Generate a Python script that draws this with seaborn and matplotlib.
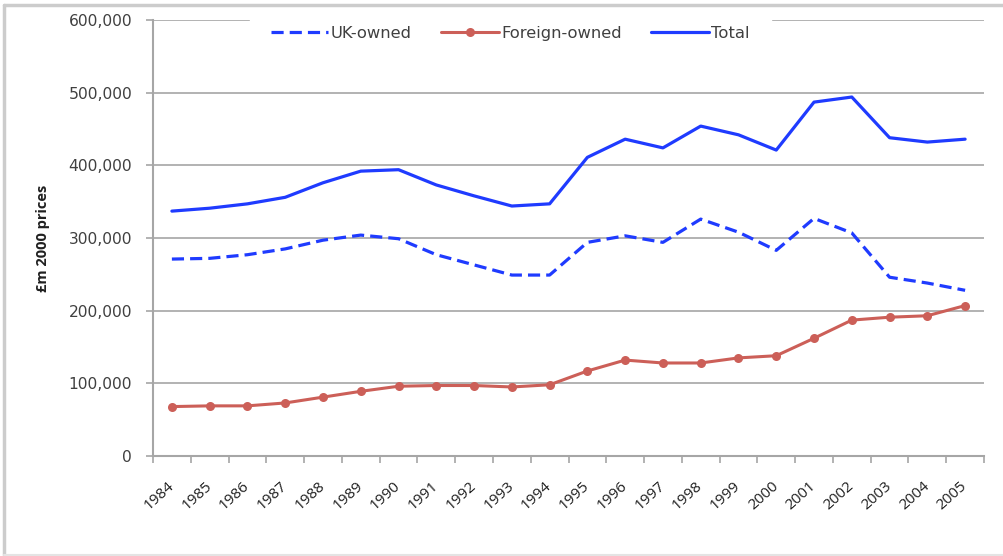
import matplotlib
matplotlib.use("Agg")
import matplotlib.pyplot as plt
import matplotlib.ticker as mticker
import matplotlib.transforms as mtransforms
from matplotlib.lines import Line2D
import seaborn as sns
import pandas as pd

years = [str(y) for y in range(1984, 2006)]
uk_owned = [271000, 272000, 277000, 285000, 297000, 304000, 299000, 277000, 263000, 249000, 249000,
            294000, 303000, 294000, 326000, 308000, 283000, 327000, 307000, 246000, 238000, 228000]
foreign_owned = [68000, 69000, 69000, 73000, 81000, 89000, 96000, 97000, 97000, 95000, 98000,
                 117000, 132000, 128000, 128000, 135000, 138000, 162000, 187000, 191000, 193000, 207000]
total = [337000, 341000, 347000, 356000, 376000, 392000, 394000, 373000, 358000, 344000, 347000,
         411000, 436000, 424000, 454000, 442000, 421000, 487000, 494000, 438000, 432000, 436000]
y_ticks = [0, 100000, 200000, 300000, 400000, 500000, 600000]

sns.set_style("white")
plt.rcParams["font.family"] = ["DejaVu Sans"]

df = pd.DataFrame({"pos": range(len(years)), "year": years,
                   "UK-owned": uk_owned, "Foreign-owned": foreign_owned, "Total": total})

W, H = 1004, 556
fig = plt.figure(figsize=(W / 100, H / 100), dpi=100)

# open frame around the chart (left, top, bottom)
frame_kw = dict(transform=fig.transFigure, color="#cccccc", linewidth=2.5)
fig.add_artist(Line2D([4 / W, 4 / W], [1 - 5 / H, 1 - 555 / H], **frame_kw))
fig.add_artist(Line2D([4 / W, 1], [1 - 5 / H, 1 - 5 / H], **frame_kw))
fig.add_artist(Line2D([4 / W, 1], [1 - 555 / H, 1 - 555 / H], color="#e4e4e4", linewidth=1.5,
                      transform=fig.transFigure))

ax = fig.add_axes([153 / W, 1 - 456 / H, (984 - 153) / W, (456 - 20) / H])

blue = "#1f3bff"
red = "#cc5f58"
grey = "#a6a6a6"

sns.lineplot(data=df, x="pos", y="UK-owned", ax=ax, color=blue, linewidth=2.3, label="UK-owned")
ax.lines[-1].set_dashes((3.8, 1.9))
sns.lineplot(data=df, x="pos", y="Foreign-owned", ax=ax, color=red, linewidth=2.2,
             marker="o", markersize=6.5, markeredgewidth=0, label="Foreign-owned")
sns.lineplot(data=df, x="pos", y="Total", ax=ax, color=blue, linewidth=2.3, label="Total")

ax.set_xlim(-0.5, len(years) - 0.5)
ax.set_ylim(0, 600000)
ax.set_yticks(y_ticks)
ax.yaxis.set_major_formatter(mticker.FuncFormatter(lambda v, p: f"{int(v):,}"))
ax.grid(axis="y", color=grey, linewidth=1.2)
ax.set_axisbelow(True)

ax.set_xticks(range(len(years)))
ax.set_xticklabels(years, rotation=42, ha="right", va="top", rotation_mode="anchor",
                   family="Open Sans", fontsize=11)
ax.set_xticks([i - 0.5 for i in range(len(years) + 1)], minor=True)
ax.tick_params(axis="x", which="major", length=0, pad=16, colors="#202020")
ax.tick_params(axis="x", which="minor", length=5, width=1.2, color=grey, direction="out", bottom=True)
ax.tick_params(axis="y", which="major", length=5, width=1.2, color=grey, direction="out", left=True,
               labelsize=11.2, labelcolor="#404040", pad=10)
shift = mtransforms.ScaledTranslation(-5 / 100, 0, fig.dpi_scale_trans)
for lbl in ax.get_xticklabels():
    lbl.set_transform(lbl.get_transform() + shift)

for s in ["top", "right"]:
    ax.spines[s].set_visible(False)
for s in ["left", "bottom"]:
    ax.spines[s].set_color(grey)
    ax.spines[s].set_linewidth(1.5)

ax.set_xlabel("")
ax.set_ylabel("£m 2000 prices", fontsize=10.5, fontweight="bold", color="#202020",
              family="Open Sans", fontstretch="condensed")
ax.yaxis.set_label_coords(-0.124, 0.5)

leg = ax.legend(loc="upper center", bbox_to_anchor=(0.43, 1.046), ncol=3, frameon=True,
                fontsize=11.8, handlelength=3.5, columnspacing=1.8, handletextpad=0.15,
                borderpad=1.3, borderaxespad=0.3)
leg.get_frame().set_edgecolor("white")
leg.get_frame().set_facecolor("white")
leg.get_frame().set_alpha(1)
for t in leg.get_texts():
    t.set_color("#404040")

fig.savefig("out.png", dpi=100)
